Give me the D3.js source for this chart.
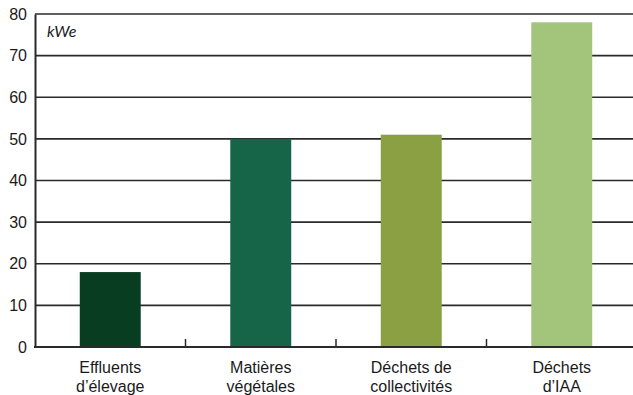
<!DOCTYPE html>
<html>
<head>
<meta charset="utf-8">
<script src="https://cdn.jsdelivr.net/npm/d3@7"></script>
<style>
  html, body { margin: 0; padding: 0; background: #fff; }
  svg { display: block; }
</style>
</head>
<body>
<svg id="chart" width="633" height="395"></svg>
<script>
// Puissance électrique moyenne par type de substrat
const categories = [
  ["Effluents", "d’élevage"],
  ["Matières", "végétales"],
  ["Déchets de", "collectivités"],
  ["Déchets", "d’IAA"]
];
const values = [18, 50, 51, 78];
const colors = ["#083d22", "#176548", "#8ba043", "#a3c57b"];
const yTicks = [0, 10, 20, 30, 40, 50, 60, 70, 80];
const unitLabel = "kWe";

(function () {
  const svg = d3.select("#chart");
  const m = { left: 35, right: 637, top: 14, bottom: 347 };

  const x = d3.scaleBand()
    .domain(d3.range(categories.length))
    .range([m.left, m.right])
    .paddingInner(0.595)
    .paddingOuter(0.2975);

  const y = d3.scaleLinear().domain([0, 80]).range([m.bottom, m.top]);

  // horizontal grid lines
  svg.append("g")
    .selectAll("line")
    .data(yTicks.filter(d => d > 0))
    .join("line")
    .attr("x1", m.left).attr("x2", 633)
    .attr("y1", d => y(d)).attr("y2", d => y(d))
    .attr("stroke", "#2a2a2a")
    .attr("stroke-width", 1.6);

  // bars
  svg.append("g")
    .selectAll("rect")
    .data(values)
    .join("rect")
    .attr("x", (d, i) => x(i))
    .attr("width", x.bandwidth())
    .attr("y", d => y(d))
    .attr("height", d => y(0) - y(d))
    .attr("fill", (d, i) => colors[i]);

  // y axis
  const yAxis = svg.append("g")
    .attr("transform", `translate(${m.left},0)`)
    .call(d3.axisLeft(y).tickValues(yTicks).tickSize(0).tickPadding(8));
  yAxis.select(".domain").attr("stroke", "#2a2a2a").attr("stroke-width", 2);
  yAxis.selectAll("text")
    .attr("font-family", "Liberation Sans, Arial, sans-serif")
    .attr("font-size", 16)
    .attr("fill", "#1a1a1a");

  // baseline
  svg.append("line")
    .attr("x1", m.left - 1).attr("x2", 633)
    .attr("y1", y(0)).attr("y2", y(0))
    .attr("stroke", "#2a2a2a").attr("stroke-width", 2);

  // separators between categories
  const step = x.step();
  svg.append("g")
    .selectAll("line")
    .data(d3.range(1, categories.length))
    .join("line")
    .attr("x1", i => m.left + i * step).attr("x2", i => m.left + i * step)
    .attr("y1", y(0)).attr("y2", y(0) - 8)
    .attr("stroke", "#2a2a2a").attr("stroke-width", 1.5);

  // category labels
  const lab = svg.append("g")
    .selectAll("text")
    .data(categories)
    .join("text")
    .attr("x", (d, i) => x(i) + x.bandwidth() / 2)
    .attr("y", 373)
    .attr("text-anchor", "middle")
    .attr("font-family", "Liberation Sans, Arial, sans-serif")
    .attr("font-size", 16)
    .attr("fill", "#1a1a1a");
  lab.selectAll("tspan")
    .data(d => d)
    .join("tspan")
    .attr("x", function () { return d3.select(this.parentNode).attr("x"); })
    .attr("dy", (d, i) => i === 0 ? 0 : 19)
    .text(d => d);

  // unit label
  svg.append("text")
    .attr("x", 47).attr("y", 37)
    .attr("font-family", "Lato, sans-serif")
    .attr("font-style", "italic")
    .attr("font-size", 16)
    .attr("fill", "#1a1a1a")
    .text(unitLabel);
})();
</script>
</body>
</html>
